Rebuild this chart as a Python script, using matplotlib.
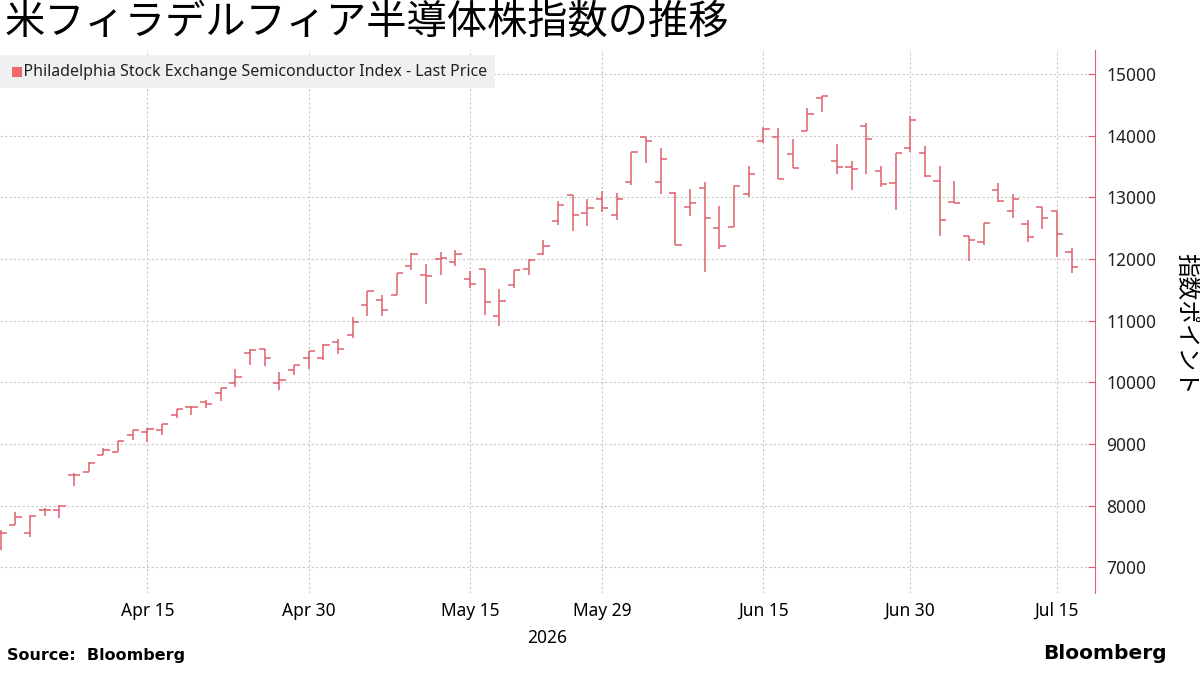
import matplotlib
matplotlib.use("Agg")
import matplotlib.pyplot as plt
from matplotlib.patches import Rectangle
import pandas as pd

plt.rcParams['font.family'] = ['Noto Sans', 'Noto Sans CJK JP', 'DejaVu Sans']

# Trading days, Mar 31 .. Jul 16 2026 (US holidays removed)
holidays = ["2026-04-03", "2026-05-25", "2026-06-19", "2026-07-03"]
dates = [d for d in pd.bdate_range("2026-03-31", "2026-07-16")
         if d.strftime("%Y-%m-%d") not in holidays]

opens = [7560, 7680, 7550, 7920, 7920, 8490, 8540, 8820, 8870, 9140,
         9190, 9220, 9470, 9600, 9680, 9820, 9980, 10470, 10540, 9980,
         10200, 10390, 10390, 10650, 10770, 11250, 11340, 11410, 11880, 11745,
         12000, 11945, 11680, 11835, 11070, 11570, 11840, 12080, 12610, 13045,
         12745, 12975, 12714, 13243, 13973, 13243, 13065, 12838, 13146, 12497,
         12514, 13049, 13914, 13973, 13697, 14081, 14605, 13589, 13486, 14157,
         13427, 13238, 13795, 13714, 13265, 12919, 12378, 12270, 13119, 12778,
         12562, 12838, 12778, 12108]
highs = [7600, 7890, 7840, 7960, 8010, 8520, 8700, 8930, 9040, 9220,
         9250, 9330, 9560, 9610, 9710, 9900, 10210, 10540, 10540, 10160,
         10280, 10500, 10625, 10700, 11060, 11485, 11410, 11770, 12095, 11920,
         12110, 12150, 11800, 11835, 11510, 11825, 12005, 12300, 12935, 13045,
         12975, 13100, 13065, 13740, 13973, 13805, 13090, 13130, 13254, 12860,
         13184, 13508, 14146, 14119, 13946, 14454, 14649, 13859, 13595, 14200,
         13513, 13724, 14319, 13832, 13508, 13265, 12378, 12589, 13238, 13049,
         12632, 12838, 12778, 12173]
lows = [7280, 7680, 7490, 7830, 7790, 8310, 8540, 8820, 8870, 9060,
        9030, 9140, 9420, 9470, 9580, 9690, 9920, 10280, 10260, 9870,
        10110, 10220, 10365, 10450, 10720, 11070, 11070, 11410, 11825, 11275,
        11745, 11890, 11530, 11095, 10905, 11530, 11745, 12070, 12555, 12450,
        12530, 12755, 12630, 13200, 13550, 13050, 12227, 12690, 11795, 12157,
        12514, 13000, 13876, 13292, 13470, 14081, 14389, 13373, 13119, 13373,
        13173, 12795, 13741, 13335, 12373, 12903, 11973, 12227, 12930, 12670,
        12281, 12481, 12038, 11778]
closes = [7560, 7810, 7830, 7920, 8000, 8500, 8690, 8900, 9040, 9220,
          9240, 9330, 9560, 9600, 9650, 9900, 10080, 10520, 10400, 10030,
          10280, 10500, 10610, 10540, 10975, 11475, 11165, 11770, 12080, 11720,
          12010, 12080, 11600, 11300, 11310, 11825, 11980, 12205, 12880, 12720,
          12830, 12830, 12973, 13740, 13914, 13616, 12227, 12903, 12660, 12211,
          13184, 13373, 14103, 13292, 13470, 14346, 14643, 13486, 13454, 13940,
          13211, 13724, 14254, 13351, 12633, 12903, 12308, 12589, 12946, 12973,
          12362, 12670, 12400, 11865]

tick_dates = ["2026-04-15", "2026-04-30", "2026-05-15", "2026-05-29",
              "2026-06-15", "2026-06-30", "2026-07-15"]
tick_labels = ["Apr 15", "Apr 30", "May 15", "May 29", "Jun 15", "Jun 30", "Jul 15"]

RED = "#e0606c"

fig = plt.figure(figsize=(12, 6.75), dpi=100)
ax = fig.add_axes([0.0, 0.121, 0.9125, 0.805])

xs = list(range(len(dates)))
ax.vlines(xs, lows, highs, color=RED, lw=1.1)
ax.hlines(opens, [x - 0.42 for x in xs], xs, color=RED, lw=1.1)
ax.hlines(closes, xs, [x + 0.42 for x in xs], color=RED, lw=1.1)

ax.set_xlim(-0.05, 74.6)
ax.set_ylim(6576, 15390)

date_str = [d.strftime("%Y-%m-%d") for d in dates]
ax.set_xticks([date_str.index(t) for t in tick_dates])
ax.set_xticklabels(tick_labels, fontsize=12.5)
ax.tick_params(axis="x", length=0, pad=6)

ax.yaxis.tick_right()
ax.set_yticks(range(7000, 15001, 1000))
ax.tick_params(axis="y", labelcolor="#222222", labelsize=12.5, length=5,
               direction="in", pad=8, color=RED)

ax.grid(True, color="#c8c8c8", ls=(0, (2, 2)), lw=0.8)
for s in ["top", "left", "bottom"]:
    ax.spines[s].set_visible(False)
ax.spines["right"].set_color(RED)

ax.text(0.5, -0.065, "2026", transform=ax.transAxes, ha="center", va="top", fontsize=12.5)

# legend-like box
ax.text(0.006, 0.96, "    Philadelphia Stock Exchange Semiconductor Index - Last Price",
        transform=ax.transAxes, ha="left", va="center", fontsize=11.5,
        color="#222222", bbox=dict(facecolor="#f0f0f0", edgecolor="none", pad=6))
ax.add_patch(Rectangle((12 / 1095, 0.951), 10 / 1095, 10 / 543, transform=ax.transAxes,
                       facecolor="#f06868", edgecolor="none", zorder=5))

fig.text(1185 / 1200, 0.52, "指数ポイント", rotation=270, ha="center", va="center", fontsize=17)
fig.text(0.004, 0.995, "米フィラデルフィア半導体株指数の推移", ha="left", va="top", fontsize=29)
fig.text(0.006, 0.018, "Source:  Bloomberg", ha="left", va="bottom", fontsize=11.5,
         weight="bold", family="DejaVu Sans")
fig.text(0.972, 0.018, "Bloomberg", ha="right", va="bottom", fontsize=14.5,
         weight="bold", family="DejaVu Sans")

fig.savefig("out.png", dpi=100)
